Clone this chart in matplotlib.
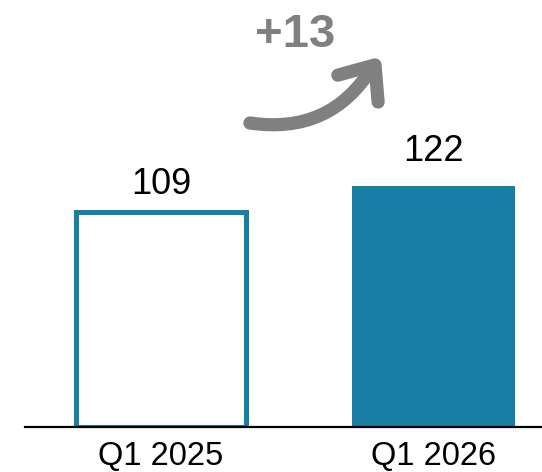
import matplotlib
matplotlib.use("Agg")
import matplotlib.pyplot as plt
from matplotlib.path import Path
from matplotlib.patches import PathPatch
from matplotlib.lines import Line2D

# Data
categories = ["Q1 2025", "Q1 2026"]
values = [109, 122]
change_label = "+13"

TEAL = "#167fa3"
GREY = "#808080"

plt.rcParams["font.family"] = ["Liberation Sans", "DejaVu Sans"]

fig = plt.figure(figsize=(5.42, 4.72), dpi=100)
ax = fig.add_axes([25 / 542, 45 / 472, 517 / 542, 427 / 472])

x = list(range(len(categories)))

# Prior period: outlined bar; current period: solid bar
ax.bar(x[0], values[0], width=0.625, facecolor="white", edgecolor=TEAL, linewidth=3.6, zorder=2)
ax.bar(x[1], values[1], width=0.6, color=TEAL, linewidth=0, zorder=2)

for xi, v in zip(x, values):
    off = 7 if xi == 0 else 12
    ax.annotate(f"{v}", (xi, v), xytext=(0, off), textcoords="offset points",
                ha="center", va="bottom", fontsize=26, color="black")

ax.set_xlim(-0.5, 1.4)
ax.set_ylim(0, 216)
ax.set_xticks(x)
ax.set_xticklabels(categories, fontsize=23.5)
ax.tick_params(axis="x", length=0, pad=10)
ax.set_yticks([])
for side in ("top", "right", "left"):
    ax.spines[side].set_visible(False)
ax.spines["bottom"].set_linewidth(1.6)
ax.spines["bottom"].set_color("black")
ax.spines["bottom"].set_zorder(3)

# Curved arrow indicating the change
curve = Path([(0.435, 0.712), (0.590, 0.684), (0.671, 0.841)],
             [Path.MOVETO, Path.CURVE3, Path.CURVE3])
ax.add_patch(PathPatch(curve, transform=ax.transAxes, fill=False, edgecolor=GREY,
                       linewidth=9.5, capstyle="round", clip_on=False))
ax.add_line(Line2D([0.605, 0.677, 0.683], [0.824, 0.848, 0.761], transform=ax.transAxes,
                   color=GREY, linewidth=9.5, solid_capstyle="round",
                   solid_joinstyle="round", clip_on=False))
ax.text(0.522, 0.918, change_label, transform=ax.transAxes, ha="center", va="center",
        fontsize=34, fontweight="bold", color=GREY)

fig.savefig("out.png", dpi=100)
